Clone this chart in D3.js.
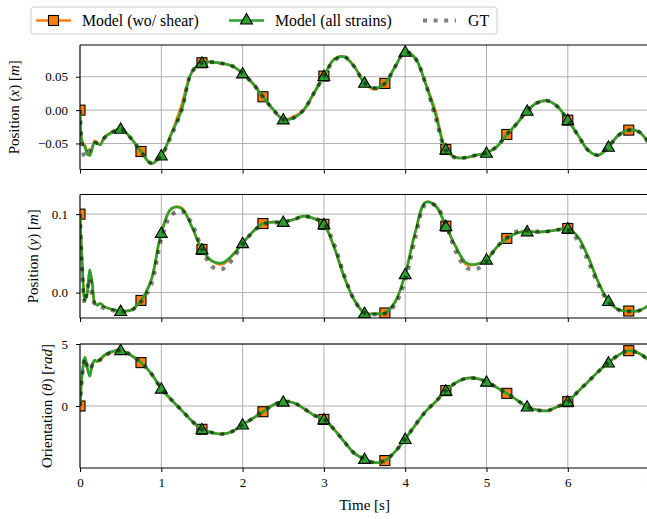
<!DOCTYPE html>
<html>
<head>
<meta charset="utf-8">
<script src="https://cdn.jsdelivr.net/npm/d3@7"></script>
<style>
  body { margin: 0; background: #fff; }
  svg { display: block; }
  text { font-family: "Liberation Serif", "DejaVu Serif", serif; fill: #000; }
</style>
</head>
<body>
<svg id="chart" width="647" height="519"></svg>
<script>
// Sample times [s]; denser at the start where the transient oscillates.
const time = [0, 0.03, 0.06, 0.09, 0.12, 0.15, 0.18, 0.21, 0.25, 0.3, 0.375,
  0.5, 0.625, 0.75, 0.875, 1, 1.125, 1.25, 1.375, 1.5, 1.625, 1.75, 1.875,
  2, 2.125, 2.25, 2.375, 2.5, 2.625, 2.75, 2.875, 3, 3.125, 3.25, 3.375,
  3.5, 3.625, 3.75, 3.875, 4, 4.125, 4.25, 4.375, 4.5, 4.625, 4.75, 4.875,
  5, 5.125, 5.25, 5.375, 5.5, 5.625, 5.75, 5.875, 6, 6.125, 6.25, 6.375,
  6.5, 6.625, 6.75, 6.875, 7];

// Position x [m]
const posXShear = [0.0, -0.048, -0.052, -0.064, -0.066, -0.056, -0.046, -0.049, -0.051, -0.040, -0.034,
  -0.028, -0.042, -0.062, -0.08, -0.068, -0.035, 0.008, 0.057, 0.071, 0.072, 0.070, 0.066,
  0.055, 0.040, 0.020, 0.001, -0.014, -0.010, 0.0, 0.025, 0.051, 0.076, 0.080, 0.065,
  0.041, 0.031, 0.040, 0.065, 0.0875, 0.0775, 0.040, -0.002, -0.059, -0.071, -0.071, -0.0675,
  -0.064, -0.055, -0.0365, -0.020, -0.001, 0.011, 0.014, 0.005, -0.015, -0.0375, -0.06, -0.0675,
  -0.055, -0.0375, -0.030, -0.0325, -0.05];
const posXFull = [0.0, -0.05, -0.055, -0.066, -0.068, -0.058, -0.048, -0.05, -0.052, -0.041, -0.035,
  -0.028, -0.042, -0.062, -0.08, -0.068, -0.035, 0.0, 0.057, 0.071, 0.072, 0.070, 0.066,
  0.055, 0.040, 0.020, 0.001, -0.014, -0.012, 0.0, 0.025, 0.051, 0.076, 0.080, 0.065,
  0.041, 0.033, 0.040, 0.065, 0.0875, 0.0775, 0.040, -0.0075, -0.059, -0.071, -0.071, -0.0675,
  -0.064, -0.055, -0.0365, -0.020, -0.001, 0.011, 0.014, 0.005, -0.015, -0.0375, -0.06, -0.0675,
  -0.055, -0.0375, -0.030, -0.0325, -0.05];
const posXGT = [0.0, -0.058, -0.07, -0.064, -0.06, -0.056, -0.05, -0.049, -0.048, -0.042, -0.035,
  -0.028, -0.042, -0.062, -0.079, -0.068, -0.038, 0.0, 0.057, 0.071, 0.072, 0.070, 0.066,
  0.055, 0.040, 0.020, 0.001, -0.014, -0.012, 0.0, 0.025, 0.051, 0.074, 0.080, 0.065,
  0.041, 0.033, 0.040, 0.065, 0.0875, 0.0775, 0.040, -0.012, -0.06, -0.072, -0.071, -0.0675,
  -0.064, -0.055, -0.0365, -0.020, -0.001, 0.011, 0.014, 0.005, -0.015, -0.0375, -0.06, -0.0675,
  -0.055, -0.0375, -0.030, -0.0325, -0.05];

// Position y [m]
const posYShear = [0.1, 0.03, -0.01, 0.0, 0.029, 0.012, -0.013, -0.016, -0.014, -0.018, -0.021,
  -0.0235, -0.0226, -0.01, 0.0157, 0.076, 0.107, 0.108, 0.084, 0.055, 0.040, 0.036, 0.0476,
  0.063, 0.0774, 0.088, 0.0898, 0.090, 0.093, 0.0974, 0.0945, 0.087, 0.058, 0.02, -0.0098,
  -0.026, -0.027, -0.026, -0.012, 0.0234, 0.0774, 0.115, 0.111, 0.0847, 0.058, 0.036, 0.036,
  0.042, 0.0575, 0.069, 0.076, 0.078, 0.077, 0.078, 0.080, 0.0817, 0.071, 0.0455, 0.0135,
  -0.0107, -0.0217, -0.0235, -0.023, -0.016];
const posYFull = [0.1, 0.03, -0.01, 0.0, 0.029, 0.012, -0.013, -0.016, -0.014, -0.018, -0.021,
  -0.0235, -0.0226, -0.01, 0.0157, 0.076, 0.107, 0.107, 0.084, 0.055, 0.040, 0.038, 0.0476,
  0.063, 0.0774, 0.088, 0.0898, 0.090, 0.093, 0.0974, 0.0945, 0.087, 0.058, 0.02, -0.0098,
  -0.026, -0.027, -0.026, -0.012, 0.0234, 0.0774, 0.115, 0.110, 0.0847, 0.058, 0.038, 0.036,
  0.042, 0.0575, 0.069, 0.076, 0.078, 0.077, 0.078, 0.080, 0.0817, 0.071, 0.0455, 0.0135,
  -0.0107, -0.0217, -0.0235, -0.023, -0.016];
const posYGT = [0.1, 0.02, -0.014, 0.005, 0.018, -0.004, -0.014, -0.016, -0.018, -0.02, -0.022,
  -0.024, -0.023, -0.012, 0.01, 0.068, 0.099, 0.104, 0.088, 0.056, 0.033, 0.030, 0.042,
  0.062, 0.077, 0.087, 0.089, 0.090, 0.093, 0.097, 0.095, 0.088, 0.062, 0.022, -0.01,
  -0.026, -0.028, -0.027, -0.015, 0.016, 0.07, 0.112, 0.111, 0.087, 0.052, 0.032, 0.030,
  0.040, 0.058, 0.070, 0.078, 0.079, 0.078, 0.078, 0.080, 0.080, 0.066, 0.040, 0.010,
  -0.012, -0.022, -0.024, -0.023, -0.017];

// Orientation theta [rad]
const thetaShear = [0, 2.7, 3.9, 3.0, 2.5, 3.3, 3.65, 3.6, 3.7, 4.05, 4.3,
  4.5, 4.11, 3.5, 2.63, 1.4, 0.5, -0.35, -1.2, -1.88, -2.15, -2.26, -2.05,
  -1.5, -1.0, -0.46, 0.08, 0.35, 0.27, -0.19, -0.73, -1.08, -1.88, -2.88, -3.82,
  -4.27, -4.57, -4.4, -3.68, -2.66, -1.53, -0.46, 0.35, 1.24, 1.88, 2.23, 2.23,
  1.96, 1.5, 1.02, 0.48, -0.05, -0.32, -0.38, -0.05, 0.35, 1.16, 1.96, 2.77,
  3.5, 4.11, 4.46, 4.25, 3.66];
const thetaFull = [0, 2.8, 3.95, 3.1, 2.4, 3.3, 3.7, 3.6, 3.75, 4.1, 4.35,
  4.5, 4.11, 3.5, 2.63, 1.4, 0.5, -0.35, -1.2, -1.88, -2.15, -2.26, -2.05,
  -1.5, -1.0, -0.46, 0.08, 0.35, 0.27, -0.19, -0.73, -1.08, -1.88, -2.88, -3.82,
  -4.27, -4.57, -4.4, -3.68, -2.66, -1.53, -0.46, 0.35, 1.24, 1.88, 2.23, 2.23,
  1.96, 1.5, 1.02, 0.48, -0.05, -0.32, -0.38, -0.05, 0.35, 1.16, 1.96, 2.77,
  3.5, 4.11, 4.46, 4.25, 3.66];
const thetaGT = [0, 2.6, 3.85, 3.2, 2.9, 3.3, 3.5, 3.6, 3.75, 4.0, 4.3,
  4.5, 4.11, 3.5, 2.63, 1.4, 0.5, -0.35, -1.2, -1.88, -2.15, -2.26, -2.05,
  -1.5, -1.0, -0.46, 0.08, 0.35, 0.27, -0.19, -0.73, -1.08, -1.88, -2.88, -3.82,
  -4.27, -4.57, -4.4, -3.68, -2.66, -1.53, -0.46, 0.35, 1.24, 1.88, 2.23, 2.23,
  1.96, 1.5, 1.02, 0.48, -0.05, -0.32, -0.38, -0.05, 0.35, 1.16, 1.96, 2.77,
  3.5, 4.11, 4.46, 4.25, 3.66];

// Marker times for each model
const squareTimes = [0, 0.75, 1.5, 2.25, 3, 3.75, 4.5, 5.25, 6, 6.75];
const triangleTimes = [0.5, 1, 1.5, 2, 2.5, 3, 3.5, 4, 4.5, 5, 5.5, 6, 6.5];

const xTicks = [0, 1, 2, 3, 4, 5, 6, 7];
const legendLabels = ["Model (wo/ shear)", "Model (all strains)", "GT"];

const colors = { shear: "#ff7f0e", full: "#2ca02c", gt: "rgba(0,0,0,0.5)" };
const serif = '"Liberation Serif", "DejaVu Serif", serif';

const svg = d3.select("#chart");
const left = 80, pxPerSec = 81.3;
const x = d3.scaleLinear().domain([0, 7]).range([left, left + 7 * pxPerSec]);
const plotRight = 700;

const panels = [
  { top: 45, height: 124.5, domain: [-0.089, 0.0976], ticks: [-0.05, 0, 0.05], fmt: d3.format(".2f"),
    label: [["Position ", false], ["(", false], ["x", true], [")", false], [" [", false], ["m", true], ["]", false]],
    labelX: 14, series: [posXShear, posXFull, posXGT] },
  { top: 194.5, height: 123.5, domain: [-0.0324, 0.125], ticks: [0, 0.1], fmt: d3.format(".1f"),
    label: [["Position ", false], ["(", false], ["y", true], [")", false], [" [", false], ["m", true], ["]", false]],
    labelX: 33, series: [posYShear, posYFull, posYGT] },
  { top: 344, height: 124, domain: [-5, 5], ticks: [0, 5], fmt: d3.format("d"),
    label: [["Orientation ", false], ["(", false], ["θ", true], [")", false], [" [", false], ["rad", true], ["]", false]],
    labelX: 47, series: [thetaShear, thetaFull, thetaGT] }
];

const defs = svg.append("defs");

panels.forEach((p, i) => {
  const y = d3.scaleLinear().domain(p.domain).range([p.top + p.height, p.top]);
  const g = svg.append("g");

  defs.append("clipPath").attr("id", "clip" + i)
    .append("rect").attr("x", left).attr("y", p.top).attr("width", plotRight - left).attr("height", p.height);

  // grid
  g.append("g").selectAll("line").data(xTicks).join("line")
    .attr("x1", d => x(d)).attr("x2", d => x(d)).attr("y1", p.top).attr("y2", p.top + p.height)
    .attr("stroke", "#b0b0b0").attr("stroke-width", 1);
  g.append("g").selectAll("line").data(p.ticks).join("line")
    .attr("x1", left).attr("x2", plotRight).attr("y1", d => y(d)).attr("y2", d => y(d))
    .attr("stroke", "#b0b0b0").attr("stroke-width", 1);

  // series
  const plot = g.append("g").attr("clip-path", `url(#clip${i})`);
  const line = d3.line().x((d, k) => x(time[k])).y(d => y(d)).curve(d3.curveCatmullRom.alpha(0.5));
  const [shear, full, gt] = p.series;

  plot.append("path").attr("d", line(shear)).attr("fill", "none")
    .attr("stroke", colors.shear).attr("stroke-width", 2.6).attr("stroke-linejoin", "round");
  plot.append("g").selectAll("rect").data(squareTimes).join("rect")
    .attr("x", t => x(t) - 5).attr("y", t => y(shear[time.indexOf(t)]) - 5)
    .attr("width", 10).attr("height", 10)
    .attr("fill", colors.shear).attr("stroke", "#000").attr("stroke-width", 1.1);

  plot.append("path").attr("d", line(full)).attr("fill", "none")
    .attr("stroke", colors.full).attr("stroke-width", 2.6).attr("stroke-linejoin", "round");
  const tri = d3.symbol().type(d3.symbolTriangle).size(62);
  plot.append("g").selectAll("path").data(triangleTimes).join("path")
    .attr("d", tri)
    .attr("transform", t => `translate(${x(t)},${y(full[time.indexOf(t)]) + 1})`)
    .attr("fill", colors.full).attr("stroke", "#000").attr("stroke-width", 1.1);

  plot.append("path").attr("d", line(gt)).attr("fill", "none")
    .attr("stroke", colors.gt).attr("stroke-width", 4).attr("stroke-dasharray", "4,6.6");

  // spines
  g.append("line").attr("x1", left).attr("x2", plotRight).attr("y1", p.top).attr("y2", p.top)
    .attr("stroke", "#000").attr("stroke-width", 1);
  g.append("line").attr("x1", left).attr("x2", plotRight).attr("y1", p.top + p.height).attr("y2", p.top + p.height)
    .attr("stroke", "#000").attr("stroke-width", 1);
  g.append("line").attr("x1", left).attr("x2", left).attr("y1", p.top).attr("y2", p.top + p.height)
    .attr("stroke", "#000").attr("stroke-width", 1);

  // y axis
  const yAxis = d3.axisLeft(y).tickValues(p.ticks).tickFormat(p.fmt).tickSize(4).tickPadding(8);
  const ya = g.append("g").attr("transform", `translate(${left},0)`).call(yAxis)
    .attr("font-family", serif).attr("font-size", 13);
  ya.select(".domain").remove();

  // x axis
  const xAxis = d3.axisBottom(x).tickValues(xTicks).tickSize(4).tickPadding(6)
    .tickFormat(i === panels.length - 1 ? d3.format("d") : () => "");
  const xa = g.append("g").attr("transform", `translate(0,${p.top + p.height})`).call(xAxis)
    .attr("font-family", serif).attr("font-size", 13);
  xa.select(".domain").remove();

  // y label
  const lab = svg.append("text").attr("font-size", 15)
    .attr("transform", `translate(${p.labelX},${p.top + p.height / 2}) rotate(-90)`)
    .attr("text-anchor", "middle").attr("dy", "0.35em");
  p.label.forEach(([s, it]) => lab.append("tspan").text(s).attr("font-style", it ? "italic" : "normal"));
});

// x label
svg.append("text").attr("x", x(3.5)).attr("y", 510).attr("text-anchor", "middle")
  .attr("font-size", 15).text("Time [s]");

// legend
const lg = svg.append("g");
lg.append("rect").attr("x", 31).attr("y", 7).attr("width", 466).attr("height", 27).attr("rx", 3)
  .attr("fill", "rgba(255,255,255,0.8)").attr("stroke", "#cccccc").attr("stroke-width", 1);
const ly = 20.5;
lg.append("line").attr("x1", 36).attr("x2", 71).attr("y1", ly).attr("y2", ly)
  .attr("stroke", colors.shear).attr("stroke-width", 2.6);
lg.append("rect").attr("x", 48.5).attr("y", ly - 5).attr("width", 10).attr("height", 10)
  .attr("fill", colors.shear).attr("stroke", "#000").attr("stroke-width", 1.1);
lg.append("line").attr("x1", 229).attr("x2", 264).attr("y1", ly).attr("y2", ly)
  .attr("stroke", colors.full).attr("stroke-width", 2.6);
lg.append("path").attr("d", d3.symbol().type(d3.symbolTriangle).size(62))
  .attr("transform", `translate(246.5,${ly})`)
  .attr("fill", colors.full).attr("stroke", "#000").attr("stroke-width", 1.1);
lg.append("line").attr("x1", 423).attr("x2", 456).attr("y1", ly).attr("y2", ly)
  .attr("stroke", colors.gt).attr("stroke-width", 4).attr("stroke-dasharray", "4,6.6");
[[82, legendLabels[0]], [275, legendLabels[1]], [468, legendLabels[2]]].forEach(([lx, s]) =>
  lg.append("text").attr("x", lx).attr("y", ly).attr("dy", "0.35em").attr("font-size", 15.8).text(s));
</script>
</body>
</html>
